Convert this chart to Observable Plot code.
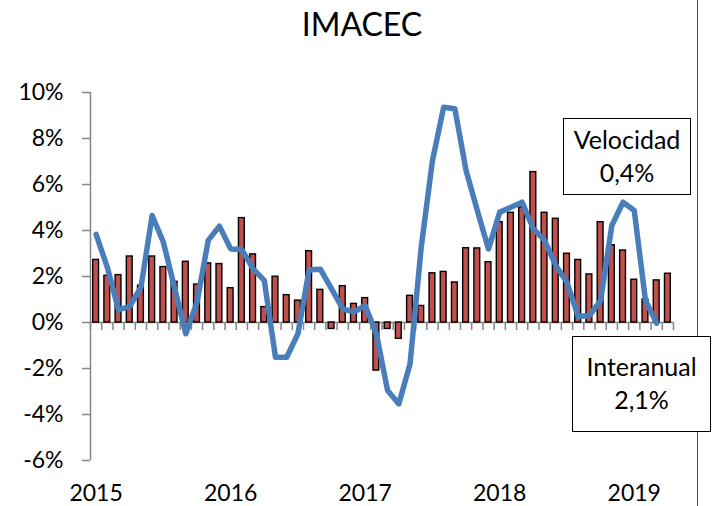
<!DOCTYPE html>
<html>
<head>
<meta charset="utf-8">
<script src="https://cdn.jsdelivr.net/npm/d3@7"></script>
<script src="https://cdn.jsdelivr.net/npm/@observablehq/plot@0.6"></script>
<style>
  html, body { margin: 0; padding: 0; background: #fff; }
  #wrap { position: relative; width: 714px; height: 506px; overflow: hidden; font-family: Lato, sans-serif; color: #000; }
  #title { position: absolute; left: 0; width: 724px; top: 8px; text-align: center; font-size: 32px; line-height: 1; }
  #chart { position: absolute; left: 0; top: 0; }
  .box { position: absolute; border: 1.3px solid #000; background: #fff; text-align: center; font-size: 25px; line-height: 33px; box-sizing: border-box; white-space: nowrap; }
  #border { position: absolute; left: 697px; top: 0; width: 1px; height: 506px; background: #555; }
</style>
</head>
<body>
<div id="wrap">
  <div id="border"></div>
  <div id="chart"></div>
  <div id="title"></div>
  <div class="box" id="boxVel" style="left:563px; top:118px; width:128px; height:77px; padding-top:4px;"></div>
  <div class="box" id="boxInt" style="left:572px; top:336px; width:139px; height:96px; padding-top:13px;"></div>
</div>
<script>
const titleText = "IMACEC";
const years = ["2015", "2016", "2017", "2018", "2019"];
// Monthly, Jan 2015 .. Apr 2019 (bars: interanual %)
const interanual = [
  2.72, 2.03, 2.06, 2.87, 1.60, 2.87, 2.41, 1.77, 2.64, 1.65, 2.57, 2.54,
  1.49, 4.54, 2.96, 0.67, 1.99, 1.19, 0.95, 3.10, 1.42, -0.28, 1.58, 0.81,
  1.06, -2.09, -0.28, -0.71, 1.16, 0.72, 2.14, 2.20, 1.74, 3.23, 3.22, 2.62,
  4.36, 4.77, 5.00, 6.54, 4.77, 4.51, 2.99, 2.72, 2.09, 4.36, 3.36, 3.13,
  1.86, 1.00, 1.83, 2.12
];
// line: velocidad %, Jan 2015 .. Mar 2019
const velocidad = [
  3.83, 2.40, 0.55, 0.70, 1.54, 4.65, 3.49, 1.50, -0.49, 0.88, 3.57, 4.19,
  3.20, 3.17, 2.33, 1.83, -1.51, -1.51, -0.49, 2.29, 2.32, 1.46, 0.59, 0.45,
  0.74, -0.49, -2.96, -3.54, -1.80, 3.28, 7.04, 9.36, 9.29, 6.61, 4.87, 3.20,
  4.80, 5.01, 5.23, 4.07, 3.57, 2.48, 1.75, 0.26, 0.30, 0.96, 4.22, 5.23,
  4.87, 0.96, -0.03
];
const yTicks = [-6, -4, -2, 0, 2, 4, 6, 8, 10];
const velLabel = ["Velocidad", "0,4%"];
const intLabel = ["Interanual", "2,1%"];

const bars = interanual.map((v, i) => ({i, v}));
const line = velocidad.map((v, i) => ({i, v}));
const boundaries = d3.range(interanual.length + 1).map(k => k - 0.5);
const yearTicks = years.map((y, k) => k * 12);

document.getElementById("title").textContent = titleText;
document.getElementById("boxVel").innerHTML = velLabel.join("<br>");
document.getElementById("boxInt").innerHTML = intLabel.join("<br>");

const axisColor = "#868686";
const chart = Plot.plot({
  width: 714,
  height: 506,
  marginLeft: 90,
  marginRight: 41,
  marginTop: 92,
  marginBottom: 46,
  style: {fontFamily: "Lato, sans-serif", background: "transparent", color: "#000", overflow: "visible"},
  x: {type: "linear", domain: [-0.5, interanual.length - 0.5], label: null},
  y: {domain: [-6, 10], label: null},
  marks: [
    Plot.ruleX([-0.5], {stroke: axisColor, strokeWidth: 1.5}),
    Plot.axisY({ticks: yTicks, tickFormat: d => d + "%", tickSize: 8, tickPadding: 19, fontSize: 23, stroke: axisColor, strokeWidth: 1.5, fill: "#000", label: null}),
    Plot.axisX({ticks: yearTicks, tickFormat: i => years[i / 12], tickSize: 0, tickPadding: 24, fontSize: 23, fill: "#000", label: null}),
    Plot.ruleY([0], {stroke: axisColor, strokeWidth: 1.5}),
    Plot.ruleX(boundaries, {x: d => d, y1: 0, y2: 0, insetBottom: -8, stroke: axisColor, strokeWidth: 1.5}),
    Plot.rectY(bars, {x1: d => d.i - 0.26, x2: d => d.i + 0.26, y: "v", fill: "#c0504d", stroke: "#000", strokeWidth: 1.4}),
    Plot.line(line, {x: "i", y: "v", stroke: "#4a7ebb", strokeWidth: 5.5, strokeLinejoin: "round", curve: "linear"})
  ]
});
document.getElementById("chart").appendChild(chart);
</script>
</body>
</html>
